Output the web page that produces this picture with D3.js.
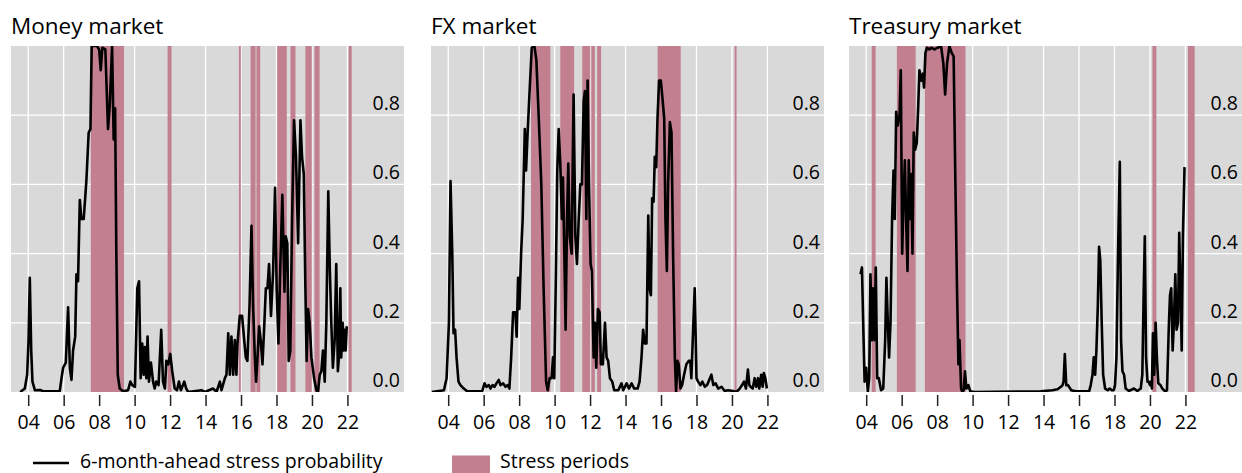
<!DOCTYPE html>
<html>
<head>
<meta charset="utf-8">
<script src="https://cdn.jsdelivr.net/npm/d3@7"></script>
<style>
  body { margin: 0; background: #fff; }
  svg { display: block; font-family: "Open Sans", "Noto Sans", sans-serif; }
</style>
</head>
<body>
<svg id="chart" width="1242" height="473"></svg>
<script>
const panelTitles = ['Money market', 'FX market', 'Treasury market'];
const xTicks = [2004, 2006, 2008, 2010, 2012, 2014, 2016, 2018, 2020, 2022];
const yTicks = [0, 0.2, 0.4, 0.6, 0.8];

// [decimal year, probability]
const moneyProb = [[2003.55,0],[2003.81,0.01],[2003.94,0.05],[2004.02,0.15],[2004.09,0.33],[2004.17,0.12],[2004.24,0.03],[2004.38,0.005],[2004.66,0.006],[2004.84,0.002],[2005.78,0.003],[2005.88,0.04],[2005.97,0.07],[2006.12,0.085],[2006.25,0.245],[2006.35,0.07],[2006.44,0.035],[2006.53,0.12],[2006.65,0.16],[2006.72,0.34],[2006.81,0.32],[2006.91,0.555],[2007.0,0.5],[2007.13,0.5],[2007.28,0.61],[2007.41,0.75],[2007.51,0.76],[2007.58,1.0],[2007.88,1.0],[2008.0,0.99],[2008.09,0.93],[2008.18,0.995],[2008.35,0.99],[2008.5,0.76],[2008.6,0.83],[2008.73,1.0],[2008.82,0.73],[2008.9,0.82],[2008.97,0.4],[2009.05,0.05],[2009.16,0.01],[2009.35,0.002],[2009.63,0.005],[2009.76,0.03],[2009.87,0.02],[2010.02,0.015],[2010.15,0.3],[2010.25,0.32],[2010.34,0.04],[2010.43,0.14],[2010.51,0.05],[2010.58,0.13],[2010.66,0.04],[2010.73,0.16],[2010.81,0.03],[2010.92,0.085],[2011.04,0.03],[2011.13,0.01],[2011.22,0.03],[2011.35,0.02],[2011.5,0.18],[2011.6,0.03],[2011.71,0.01],[2011.79,0.09],[2011.9,0.08],[2012.01,0.11],[2012.12,0.06],[2012.26,0.01],[2012.39,0.005],[2012.5,0.03],[2012.61,0.005],[2012.8,0.03],[2012.91,0.01],[2013.02,0.0],[2013.77,0.005],[2013.96,0.0],[2014.43,0.01],[2014.62,0.0],[2014.81,0.03],[2014.9,0.005],[2015.09,0.04],[2015.18,0.05],[2015.28,0.17],[2015.37,0.05],[2015.46,0.16],[2015.56,0.05],[2015.65,0.15],[2015.74,0.05],[2015.8,0.14],[2015.93,0.22],[2016.06,0.22],[2016.18,0.15],[2016.27,0.1],[2016.36,0.09],[2016.48,0.25],[2016.59,0.48],[2016.68,0.25],[2016.78,0.1],[2016.85,0.03],[2016.93,0.1],[2017.02,0.19],[2017.11,0.15],[2017.21,0.08],[2017.3,0.18],[2017.4,0.3],[2017.49,0.3],[2017.58,0.37],[2017.69,0.22],[2017.81,0.35],[2017.92,0.59],[2018.01,0.3],[2018.11,0.14],[2018.22,0.37],[2018.33,0.57],[2018.45,0.29],[2018.52,0.45],[2018.61,0.43],[2018.69,0.09],[2018.78,0.12],[2018.88,0.5],[2018.99,0.785],[2019.1,0.68],[2019.22,0.43],[2019.35,0.785],[2019.44,0.68],[2019.54,0.63],[2019.63,0.3],[2019.7,0.09],[2019.78,0.24],[2019.87,0.2],[2019.97,0.1],[2020.12,0.04],[2020.25,0.005],[2020.34,0.0],[2020.44,0.05],[2020.53,0.06],[2020.62,0.12],[2020.72,0.03],[2020.81,0.2],[2020.92,0.58],[2021.01,0.35],[2021.09,0.2],[2021.18,0.07],[2021.28,0.15],[2021.37,0.37],[2021.46,0.06],[2021.52,0.1],[2021.6,0.3],[2021.65,0.1],[2021.73,0.2],[2021.79,0.12],[2021.84,0.18],[2021.9,0.12],[2021.96,0.19]];

const fxProb = [[2003.08,0],[2003.76,0.005],[2003.91,0.04],[2004.04,0.2],[2004.13,0.61],[2004.23,0.4],[2004.3,0.17],[2004.39,0.18],[2004.47,0.1],[2004.58,0.03],[2004.69,0.02],[2004.88,0.01],[2005.07,0.002],[2005.91,0.002],[2006.05,0.025],[2006.16,0.015],[2006.29,0.02],[2006.38,0.01],[2006.5,0.02],[2006.61,0.015],[2006.72,0.025],[2006.85,0.035],[2006.95,0.02],[2007.1,0.025],[2007.23,0.015],[2007.36,0.02],[2007.45,0.01],[2007.55,0.1],[2007.66,0.23],[2007.79,0.23],[2007.86,0.16],[2007.94,0.33],[2008.01,0.24],[2008.11,0.4],[2008.2,0.5],[2008.32,0.76],[2008.39,0.64],[2008.47,0.74],[2008.58,0.86],[2008.71,0.995],[2008.86,1.0],[2008.97,0.96],[2009.1,0.8],[2009.25,0.6],[2009.38,0.3],[2009.52,0.03],[2009.61,0.005],[2009.72,0.04],[2009.83,0.04],[2009.91,0.1],[2009.98,0.04],[2010.06,0.3],[2010.15,0.64],[2010.23,0.76],[2010.32,0.66],[2010.41,0.5],[2010.47,0.62],[2010.55,0.4],[2010.62,0.18],[2010.7,0.5],[2010.77,0.66],[2010.85,0.45],[2010.96,0.4],[2011.07,0.86],[2011.17,0.45],[2011.26,0.37],[2011.36,0.5],[2011.45,0.6],[2011.54,0.6],[2011.64,0.84],[2011.71,0.87],[2011.79,0.5],[2011.86,0.9],[2011.94,0.6],[2012.03,0.37],[2012.1,0.35],[2012.2,0.1],[2012.27,0.2],[2012.35,0.07],[2012.44,0.24],[2012.54,0.23],[2012.61,0.08],[2012.72,0.08],[2012.84,0.2],[2012.93,0.1],[2013.02,0.09],[2013.12,0.04],[2013.25,0.03],[2013.36,0.005],[2013.59,0.005],[2013.77,0.025],[2013.87,0.005],[2014.06,0.025],[2014.19,0.01],[2014.34,0.025],[2014.49,0.01],[2014.68,0.01],[2014.79,0.03],[2014.9,0.1],[2014.99,0.18],[2015.09,0.14],[2015.18,0.14],[2015.28,0.51],[2015.35,0.3],[2015.43,0.28],[2015.5,0.56],[2015.58,0.55],[2015.65,0.68],[2015.73,0.65],[2015.8,0.79],[2015.89,0.9],[2015.99,0.9],[2016.08,0.85],[2016.18,0.79],[2016.25,0.5],[2016.33,0.35],[2016.4,0.6],[2016.5,0.78],[2016.59,0.75],[2016.68,0.4],[2016.78,0.1],[2016.85,0.0],[2016.93,0.09],[2017.0,0.08],[2017.1,0.01],[2017.19,0.02],[2017.3,0.05],[2017.43,0.08],[2017.56,0.09],[2017.65,0.09],[2017.71,0.04],[2017.81,0.18],[2017.9,0.3],[2018.0,0.04],[2018.09,0.03],[2018.22,0.02],[2018.33,0.03],[2018.47,0.015],[2018.6,0.02],[2018.84,0.05],[2018.95,0.02],[2019.08,0.025],[2019.22,0.01],[2019.41,0.015],[2019.59,0.003],[2019.78,0.005],[2020.06,0.003],[2020.25,0.0],[2020.44,0.01],[2020.57,0.02],[2020.68,0.03],[2020.79,0.01],[2020.9,0.065],[2020.98,0.02],[2021.05,0.015],[2021.17,0.01],[2021.28,0.04],[2021.37,0.015],[2021.47,0.04],[2021.54,0.01],[2021.65,0.05],[2021.73,0.015],[2021.8,0.055],[2021.88,0.04],[2021.97,0.01]];

const treasuryProb = [[2003.68,0.34],[2003.76,0.36],[2003.83,0.2],[2003.91,0.03],[2004.0,0.07],[2004.09,0.0],[2004.17,0.04],[2004.24,0.34],[2004.32,0.15],[2004.39,0.3],[2004.47,0.15],[2004.54,0.36],[2004.62,0.04],[2004.71,0.04],[2004.84,0.005],[2004.96,0.01],[2005.07,0.15],[2005.14,0.33],[2005.22,0.2],[2005.29,0.1],[2005.37,0.2],[2005.46,0.5],[2005.54,0.64],[2005.61,0.5],[2005.69,0.81],[2005.78,0.77],[2005.88,0.8],[2005.95,0.93],[2006.03,0.4],[2006.1,0.55],[2006.18,0.67],[2006.25,0.5],[2006.33,0.35],[2006.4,0.67],[2006.48,0.5],[2006.53,0.63],[2006.61,0.4],[2006.68,0.75],[2006.76,0.7],[2006.85,0.72],[2006.93,0.82],[2007.0,0.93],[2007.1,0.9],[2007.19,0.92],[2007.26,0.88],[2007.34,0.98],[2007.43,0.995],[2007.56,0.99],[2007.66,0.995],[2007.85,0.99],[2008.03,0.995],[2008.22,1.0],[2008.35,0.95],[2008.45,0.86],[2008.56,0.95],[2008.69,1.0],[2008.82,0.98],[2008.93,0.97],[2009.03,0.6],[2009.12,0.3],[2009.2,0.08],[2009.26,0.15],[2009.35,0.01],[2009.42,0.0],[2009.5,0.005],[2009.57,0.06],[2009.65,0.01],[2009.76,0.02],[2009.87,0.002],[2010.1,0.0],[2013.85,0.002],[2014.0,0.003],[2014.51,0.005],[2014.79,0.008],[2014.98,0.015],[2015.07,0.02],[2015.13,0.03],[2015.2,0.11],[2015.28,0.02],[2015.37,0.02],[2015.44,0.015],[2015.56,0.005],[2015.82,0.002],[2016.57,0.002],[2016.66,0.02],[2016.76,0.05],[2016.83,0.1],[2016.91,0.05],[2016.98,0.12],[2017.06,0.25],[2017.13,0.42],[2017.2,0.38],[2017.28,0.2],[2017.36,0.05],[2017.47,0.01],[2017.62,0.005],[2017.73,0.01],[2017.85,0.005],[2017.96,0.005],[2018.03,0.02],[2018.11,0.1],[2018.2,0.4],[2018.3,0.665],[2018.37,0.15],[2018.45,0.06],[2018.54,0.05],[2018.63,0.01],[2018.82,0.003],[2019.1,0.01],[2019.29,0.003],[2019.48,0.01],[2019.57,0.05],[2019.65,0.3],[2019.71,0.45],[2019.78,0.1],[2019.86,0.03],[2019.93,0.03],[2020.0,0.02],[2020.06,0.03],[2020.11,0.01],[2020.17,0.17],[2020.24,0.05],[2020.32,0.2],[2020.39,0.1],[2020.47,0.025],[2020.59,0.02],[2020.7,0.01],[2020.85,0.002],[2020.96,0.005],[2021.07,0.2],[2021.13,0.28],[2021.2,0.3],[2021.28,0.12],[2021.35,0.2],[2021.43,0.34],[2021.5,0.18],[2021.58,0.2],[2021.65,0.46],[2021.73,0.27],[2021.79,0.12],[2021.86,0.45],[2021.95,0.65]];

// [start, end] of each stress period, decimal years
const moneyStress = [[2007.53,2009.4],[2011.86,2012.08],[2015.88,2015.99],[2016.54,2016.82],[2016.87,2017.08],[2018.04,2018.58],[2018.79,2019.07],[2019.63,2019.99],[2020.14,2020.43],[2022.07,2022.24]];
const fxStress = [[2008.67,2009.76],[2010.32,2011.1],[2011.56,2012.01],[2012.07,2012.27],[2012.4,2012.62],[2015.81,2017.11],[2020.15,2020.26]];
const treasuryStress = [[2004.31,2004.53],[2005.73,2006.79],[2007.31,2009.6],[2020.14,2020.36],[2022.14,2022.52]];

const panels = [
  { title: panelTitles[0], line: moneyProb, stress: moneyStress, left: 11 },
  { title: panelTitles[1], line: fxProb, stress: fxStress, left: 431 },
  { title: panelTitles[2], line: treasuryProb, stress: treasuryStress, left: 849 }
];

const plotTop = 46;
const width = 393;
const height = 346;
const bg = '#d9d9d9';
const stressColor = '#c17f8f';

const svg = d3.select('#chart');

const x = d3.scaleLinear().domain([2003.03, 2025.19]).range([0, width]);
const y = d3.scaleLinear().domain([0, 1]).range([height, 0]);

const line = d3.line()
  .x((d) => x(d[0]))
  .y((d) => y(d[1]));

panels.forEach((p, i) => {
  const g = svg.append('g').attr('transform', `translate(${p.left},${plotTop})`);

  // 标题
  svg.append('text')
    .attr('x', p.left)
    .attr('y', 34)
    .style('font-size', '22.5px')
    .style('fill', '#000')
    .text(p.title);

  g.append('clipPath').attr('id', `clip${i}`)
    .append('rect').attr('width', width).attr('height', height);

  g.append('rect')
    .attr('width', width)
    .attr('height', height)
    .attr('fill', bg);

  // 网格
  g.selectAll('.vgrid')
    .data(xTicks)
    .join('line')
    .attr('x1', (d) => x(d)).attr('x2', (d) => x(d))
    .attr('y1', 0).attr('y2', height)
    .attr('stroke', '#fff')
    .attr('stroke-width', 1.3);

  g.selectAll('.hgrid')
    .data(yTicks.filter((d) => d > 0))
    .join('line')
    .attr('x1', 0).attr('x2', width)
    .attr('y1', (d) => y(d)).attr('y2', (d) => y(d))
    .attr('stroke', '#fff')
    .attr('stroke-width', 1.3);

  // 压力时期
  g.append('g')
    .attr('clip-path', `url(#clip${i})`)
    .selectAll('rect')
    .data(p.stress)
    .join('rect')
    .attr('x', (d) => x(d[0]))
    .attr('width', (d) => x(d[1]) - x(d[0]))
    .attr('y', 0)
    .attr('height', height)
    .attr('fill', stressColor);

  // Y 轴标签
  g.selectAll('.ylab')
    .data(yTicks)
    .join('text')
    .attr('x', width - 4)
    .attr('y', (d) => y(d) - 5)
    .attr('text-anchor', 'end')
    .style('font-size', '19.5px')
    .style('fill', '#000')
    .text((d) => d3.format('.1f')(d));

  // 概率线
  g.append('path')
    .datum(p.line)
    .attr('clip-path', `url(#clip${i})`)
    .attr('fill', 'none')
    .attr('stroke', '#000')
    .attr('stroke-width', 2.6)
    .attr('stroke-linejoin', 'round')
    .attr('d', line);

  // X 轴
  const ax = g.append('g')
    .attr('transform', `translate(0,${height + 3})`)
    .call(d3.axisBottom(x)
      .tickValues(xTicks)
      .tickSizeInner(11)
      .tickSizeOuter(0)
      .tickPadding(9)
      .tickFormat((d) => String(d).slice(2)));
  ax.select('.domain').remove();
  ax.selectAll('line').attr('stroke', '#222').attr('stroke-width', 1.5);
  ax.selectAll('text')
    .style('font-size', '19.5px')
    .style('font-family', '"Open Sans", "Noto Sans", sans-serif')
    .style('fill', '#000');
});

// 图例
const legend = svg.append('g');
legend.append('line')
  .attr('x1', 33).attr('x2', 69)
  .attr('y1', 463).attr('y2', 463)
  .attr('stroke', '#000')
  .attr('stroke-width', 2.6);
legend.append('text')
  .attr('x', 80).attr('y', 467.5)
  .style('font-size', '19.5px')
  .text('6-month-ahead stress probability');
legend.append('rect')
  .attr('x', 452).attr('y', 455.5)
  .attr('width', 38).attr('height', 20)
  .attr('fill', stressColor);
legend.append('text')
  .attr('x', 500).attr('y', 467.5)
  .style('font-size', '19.5px')
  .text('Stress periods');
</script>
</body>
</html>
